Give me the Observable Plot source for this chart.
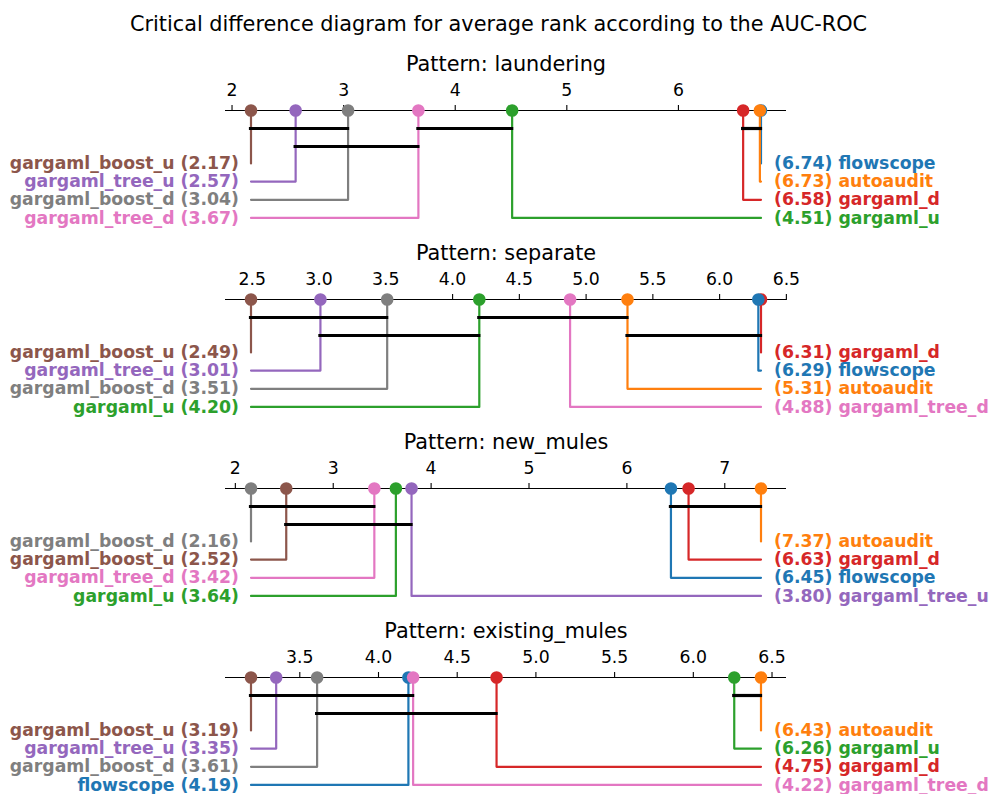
<!DOCTYPE html>
<html><head><meta charset="utf-8">
<script src="https://cdn.jsdelivr.net/npm/d3@7"></script>
<script src="https://cdn.jsdelivr.net/npm/@observablehq/plot@0.6"></script>
<style>
body{margin:0;background:#fff;font-family:"DejaVu Sans",sans-serif;}
#title{width:997px;height:38px;box-sizing:border-box;padding-top:13px;font-size:20.8px;line-height:22px;text-align:center;color:#000;}
#chart svg{display:block}
</style></head><body>
<div id="title">Critical difference diagram for average rank according to the AUC-ROC</div>
<div id="chart"></div>
<script>
// ---- data ----
const methods = ["flowscope","autoaudit","gargaml_u","gargaml_d","gargaml_tree_u","gargaml_boost_u","gargaml_tree_d","gargaml_boost_d"];
const patterns = ["laundering","separate","new_mules","existing_mules"];

const ranksLaundering = [6.74, 6.73, 4.51, 6.58, 2.57, 2.17, 3.67, 3.04];
const ranksSeparate   = [6.29, 5.31, 4.20, 6.31, 3.01, 2.49, 4.88, 3.51];
const ranksNewMules   = [6.45, 7.37, 3.64, 6.63, 3.80, 2.52, 3.42, 2.16];
const ranksExisting   = [4.19, 6.43, 6.26, 4.75, 3.35, 3.19, 4.22, 3.61];

const ticksLaundering = [2, 3, 4, 5, 6];
const ticksSeparate   = [2.5, 3.0, 3.5, 4.0, 4.5, 5.0, 5.5, 6.0, 6.5];
const ticksNewMules   = [2, 3, 4, 5, 6, 7];
const ticksExisting   = [3.5, 4.0, 4.5, 5.0, 5.5, 6.0, 6.5];
const tickDecimals    = [0, 1, 0, 1];

// groups of methods with no significant difference (cliques)
const cliquesLaundering = [
  ["gargaml_boost_u","gargaml_tree_u","gargaml_boost_d"],
  ["gargaml_tree_u","gargaml_boost_d","gargaml_tree_d"],
  ["gargaml_tree_d","gargaml_u"],
  ["gargaml_d","autoaudit","flowscope"]
];
const cliquesSeparate = [
  ["gargaml_boost_u","gargaml_tree_u","gargaml_boost_d"],
  ["gargaml_tree_u","gargaml_boost_d","gargaml_u"],
  ["gargaml_u","gargaml_tree_d","autoaudit"],
  ["autoaudit","flowscope","gargaml_d"]
];
const cliquesNewMules = [
  ["gargaml_boost_d","gargaml_boost_u","gargaml_tree_d"],
  ["gargaml_boost_u","gargaml_tree_d","gargaml_u","gargaml_tree_u"],
  ["flowscope","gargaml_d","autoaudit"]
];
const cliquesExisting = [
  ["gargaml_boost_u","gargaml_tree_u","gargaml_boost_d","flowscope","gargaml_tree_d"],
  ["gargaml_boost_d","flowscope","gargaml_tree_d","gargaml_d"],
  ["gargaml_u","autoaudit"]
];

const colors = d3.schemeCategory10.slice(0, 8);

// ---- layout constants ----
const UNIT = 18;          // px per level
const ROW0 = 2.94;        // first label row level
const ROWSTEP = 1.01;

function panel(pattern, ranks, ticks, decimals, cliques) {
  const items = methods.map((m, i) => ({method: m, rank: ranks[i]}));
  const sorted = items.slice().sort((a, b) => a.rank - b.rank);
  const half = Math.ceil(sorted.length / 2);
  const lo = sorted[0].rank, hi = sorted[sorted.length - 1].rank;
  const rowLevel = r => ROW0 + r * ROWSTEP;
  const left = sorted.slice(0, half).map((d, i) => ({...d, level: rowLevel(i), edge: lo}));
  const right = sorted.slice(half).reverse().map((d, i) => ({...d, level: rowLevel(i), edge: hi}));
  const placed = left.concat(right);
  const elbows = placed.flatMap(d => [
    {method: d.method, x: d.rank, y: 0},
    {method: d.method, x: d.rank, y: d.level},
    {method: d.method, x: d.edge, y: d.level}
  ]);
  const rankOf = Object.fromEntries(items.map(d => [d.method, d.rank]));
  const spans = cliques.map(c => ({x1: d3.min(c, m => rankOf[m]), x2: d3.max(c, m => rankOf[m])}))
    .sort((a, b) => a.x1 - b.x1);
  const ends = [];
  spans.forEach(s => {
    let l = ends.findIndex(e => s.x1 > e);
    if (l < 0) { l = ends.length; ends.push(s.x2); } else ends[l] = s.x2;
    s.level = l + 1;
  });
  const pad = (hi - lo) * 0.05;
  const fmt = d3.format(`.${decimals}f`);
  return Plot.plot({
    width: 997, height: 189,
    marginTop: 72, marginBottom: 0, marginLeft: 225, marginRight: 211,
    x: {domain: [lo - pad, hi + pad]},
    y: {domain: [0, 117 / UNIT], range: [72, 189], axis: null},
    color: {domain: methods, range: colors},
    style: {fontFamily: "DejaVu Sans", fontSize: "17px", color: "#000", background: "#fff", overflow: "visible"},
    marks: [
      Plot.axisX({anchor: "top", ticks, tickSize: 6, tickPadding: 9, fontSize: 17.3, tickFormat: fmt, label: null, stroke: "#000", strokeWidth: 1.1}),
      Plot.ruleY([0], {stroke: "#000", strokeWidth: 1.1}),
      Plot.line(elbows, {x: "x", y: "y", z: "method", stroke: "method", strokeWidth: 2.2}),
      Plot.dot(placed, {x: "rank", y: () => 0, r: 6.3, fill: "method"}),
      Plot.ruleY(spans, {x1: "x1", x2: "x2", y: "level", stroke: "#000", strokeWidth: 3.2, strokeLinecap: "square"}),
      Plot.text(left, {x: "edge", y: "level", text: d => `${d.method} (${d.rank.toFixed(2)})`, fill: "method",
        textAnchor: "end", dx: -12, fontWeight: "bold", fontSize: 17.3}),
      Plot.text(right, {x: "edge", y: "level", text: d => `(${d.rank.toFixed(2)}) ${d.method}`, fill: "method",
        textAnchor: "start", dx: 13, fontWeight: "bold", fontSize: 17.3}),
      Plot.text([`Pattern: ${pattern}`], {text: d => d, frameAnchor: "top", lineAnchor: "middle", dy: -46, fontSize: 20.8, fill: "#000"})
    ]
  });
}

const chart = document.getElementById("chart");
const rankSets = [ranksLaundering, ranksSeparate, ranksNewMules, ranksExisting];
const tickSets = [ticksLaundering, ticksSeparate, ticksNewMules, ticksExisting];
const cliqueSets = [cliquesLaundering, cliquesSeparate, cliquesNewMules, cliquesExisting];
patterns.forEach((p, i) => chart.append(panel(p, rankSets[i], tickSets[i], tickDecimals[i], cliqueSets[i])));
</script>
</body></html>
